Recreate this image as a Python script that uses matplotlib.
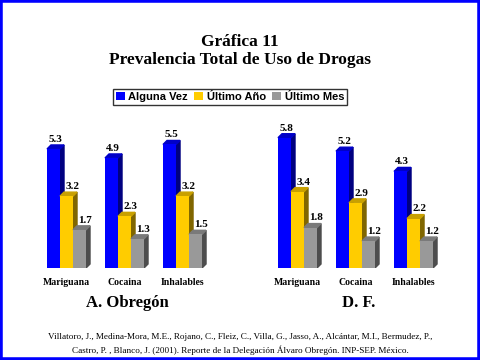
import numpy as np
import matplotlib.pyplot as plt
from matplotlib.patches import Polygon, Rectangle

categories = ["Mariguana", "Cocaina", "Inhalables"]
series = ["Alguna Vez", "Último Año", "Último Mes"]
obregon = [[5.3, 4.9, 5.5], [3.2, 2.3, 3.2], [1.7, 1.3, 1.5]]
df = [[5.8, 5.2, 4.3], [3.4, 2.9, 2.2], [1.8, 1.2, 1.2]]
panel_titles = ["A. Obregón", "D. F."]

front = ["#0000ff", "#ffcc00", "#999999"]
side = ["#000080", "#806600", "#4d4d4d"]
top = ["#0000c8", "#c8a000", "#7a7a7a"]

W, H = 480, 360
fig = plt.figure(figsize=(4.8, 3.6), dpi=100)
fig.patch.set_facecolor("white")

serif = "Liberation Serif"
sans = "Liberation Sans"

fig.text(0.5, 1 - 42 / H, "Gráfica 11", ha="center", va="center",
         fontsize=12.5, fontweight="bold", family=serif)
fig.text(0.5, 1 - 60 / H, "Prevalencia Total de Uso de Drogas", ha="center",
         va="center", fontsize=12.5, fontweight="bold", family=serif)

bw = 13 / 58.0          # bar width in group units
dx = 4 / 58.0           # depth offset x
dy = 4 / 22.5           # depth offset y (values)
xlim = (-0.457, 2.646)
ylim = (0, 6.5)

def draw_panel(left_px, data, title):
    ax = fig.add_axes([left_px / W, (H - 268) / H, 180 / W, 146 / H])
    ax.set_xlim(*xlim)
    ax.set_ylim(*ylim)
    ax.axis("off")
    x = np.arange(len(categories))
    handles = []
    for k, vals in enumerate(data):
        xs = x + (k - 1) * bw
        b = ax.bar(xs, vals, width=bw, color=front[k], zorder=3 + k * 2,
                   label=series[k])
        handles.append(b)
        for xc, h in zip(xs, vals):
            x0, x1 = xc - bw / 2, xc + bw / 2
            ax.add_patch(Polygon([(x1, 0), (x1 + dx, dy), (x1 + dx, h + dy), (x1, h)],
                                 closed=True, color=side[k], zorder=2 + k * 2))
            ax.add_patch(Polygon([(x0, h), (x0 + dx, h + dy), (x1 + dx, h + dy), (x1, h)],
                                 closed=True, color=top[k], zorder=2 + k * 2))
            off = 0.03 if k == 0 else 0.1
            ax.text(xc + off, h + dy + 0.05, f"{h:.1f}", ha="center", va="bottom",
                    fontsize=8, fontweight="bold", family=serif, zorder=10)

    for xc, c in zip(x, categories):
        ax.text(xc, -0.63, c, ha="center", va="center", fontsize=7,
                fontweight="bold", family=serif)
    ax.text(np.mean(x) + 0.05, -1.55, title, ha="center", va="center",
            fontsize=12, fontweight="bold", family=serif)
    return handles

handles = draw_panel(40, obregon, panel_titles[0])
draw_panel(271, df, panel_titles[1])

leg = fig.legend(handles=handles, labels=series, loc="center",
                 bbox_to_anchor=(230 / W, 1 - 97 / H), ncol=3, frameon=True,
                 fancybox=False, edgecolor="black", handlelength=0.8,
                 handleheight=0.8, handletextpad=0.3, columnspacing=0.6,
                 borderpad=0.3, prop={"family": sans, "weight": "bold", "size": 8})
leg.get_frame().set_linewidth(1.0)

fig.text(0.5, 1 - 337 / H,
         "Villatoro, J., Medina-Mora, M.E., Rojano, C., Fleiz, C., Villa, G., Jasso, A., "
         "Alcántar, M.I., Bermudez, P.,",
         ha="center", va="center", fontsize=6.6, family=serif)
fig.text(0.5, 1 - 350 / H,
         "Castro, P. , Blanco, J. (2001). Reporte de la Delegación Álvaro Obregón. "
         "INP-SEP. México.",
         ha="center", va="center", fontsize=6.6, family=serif)

fig.patches.append(Rectangle((0, 0), 1, 1, transform=fig.transFigure,
                             fill=False, edgecolor="#0000ff", linewidth=4))

fig.savefig("out.png", dpi=100)
